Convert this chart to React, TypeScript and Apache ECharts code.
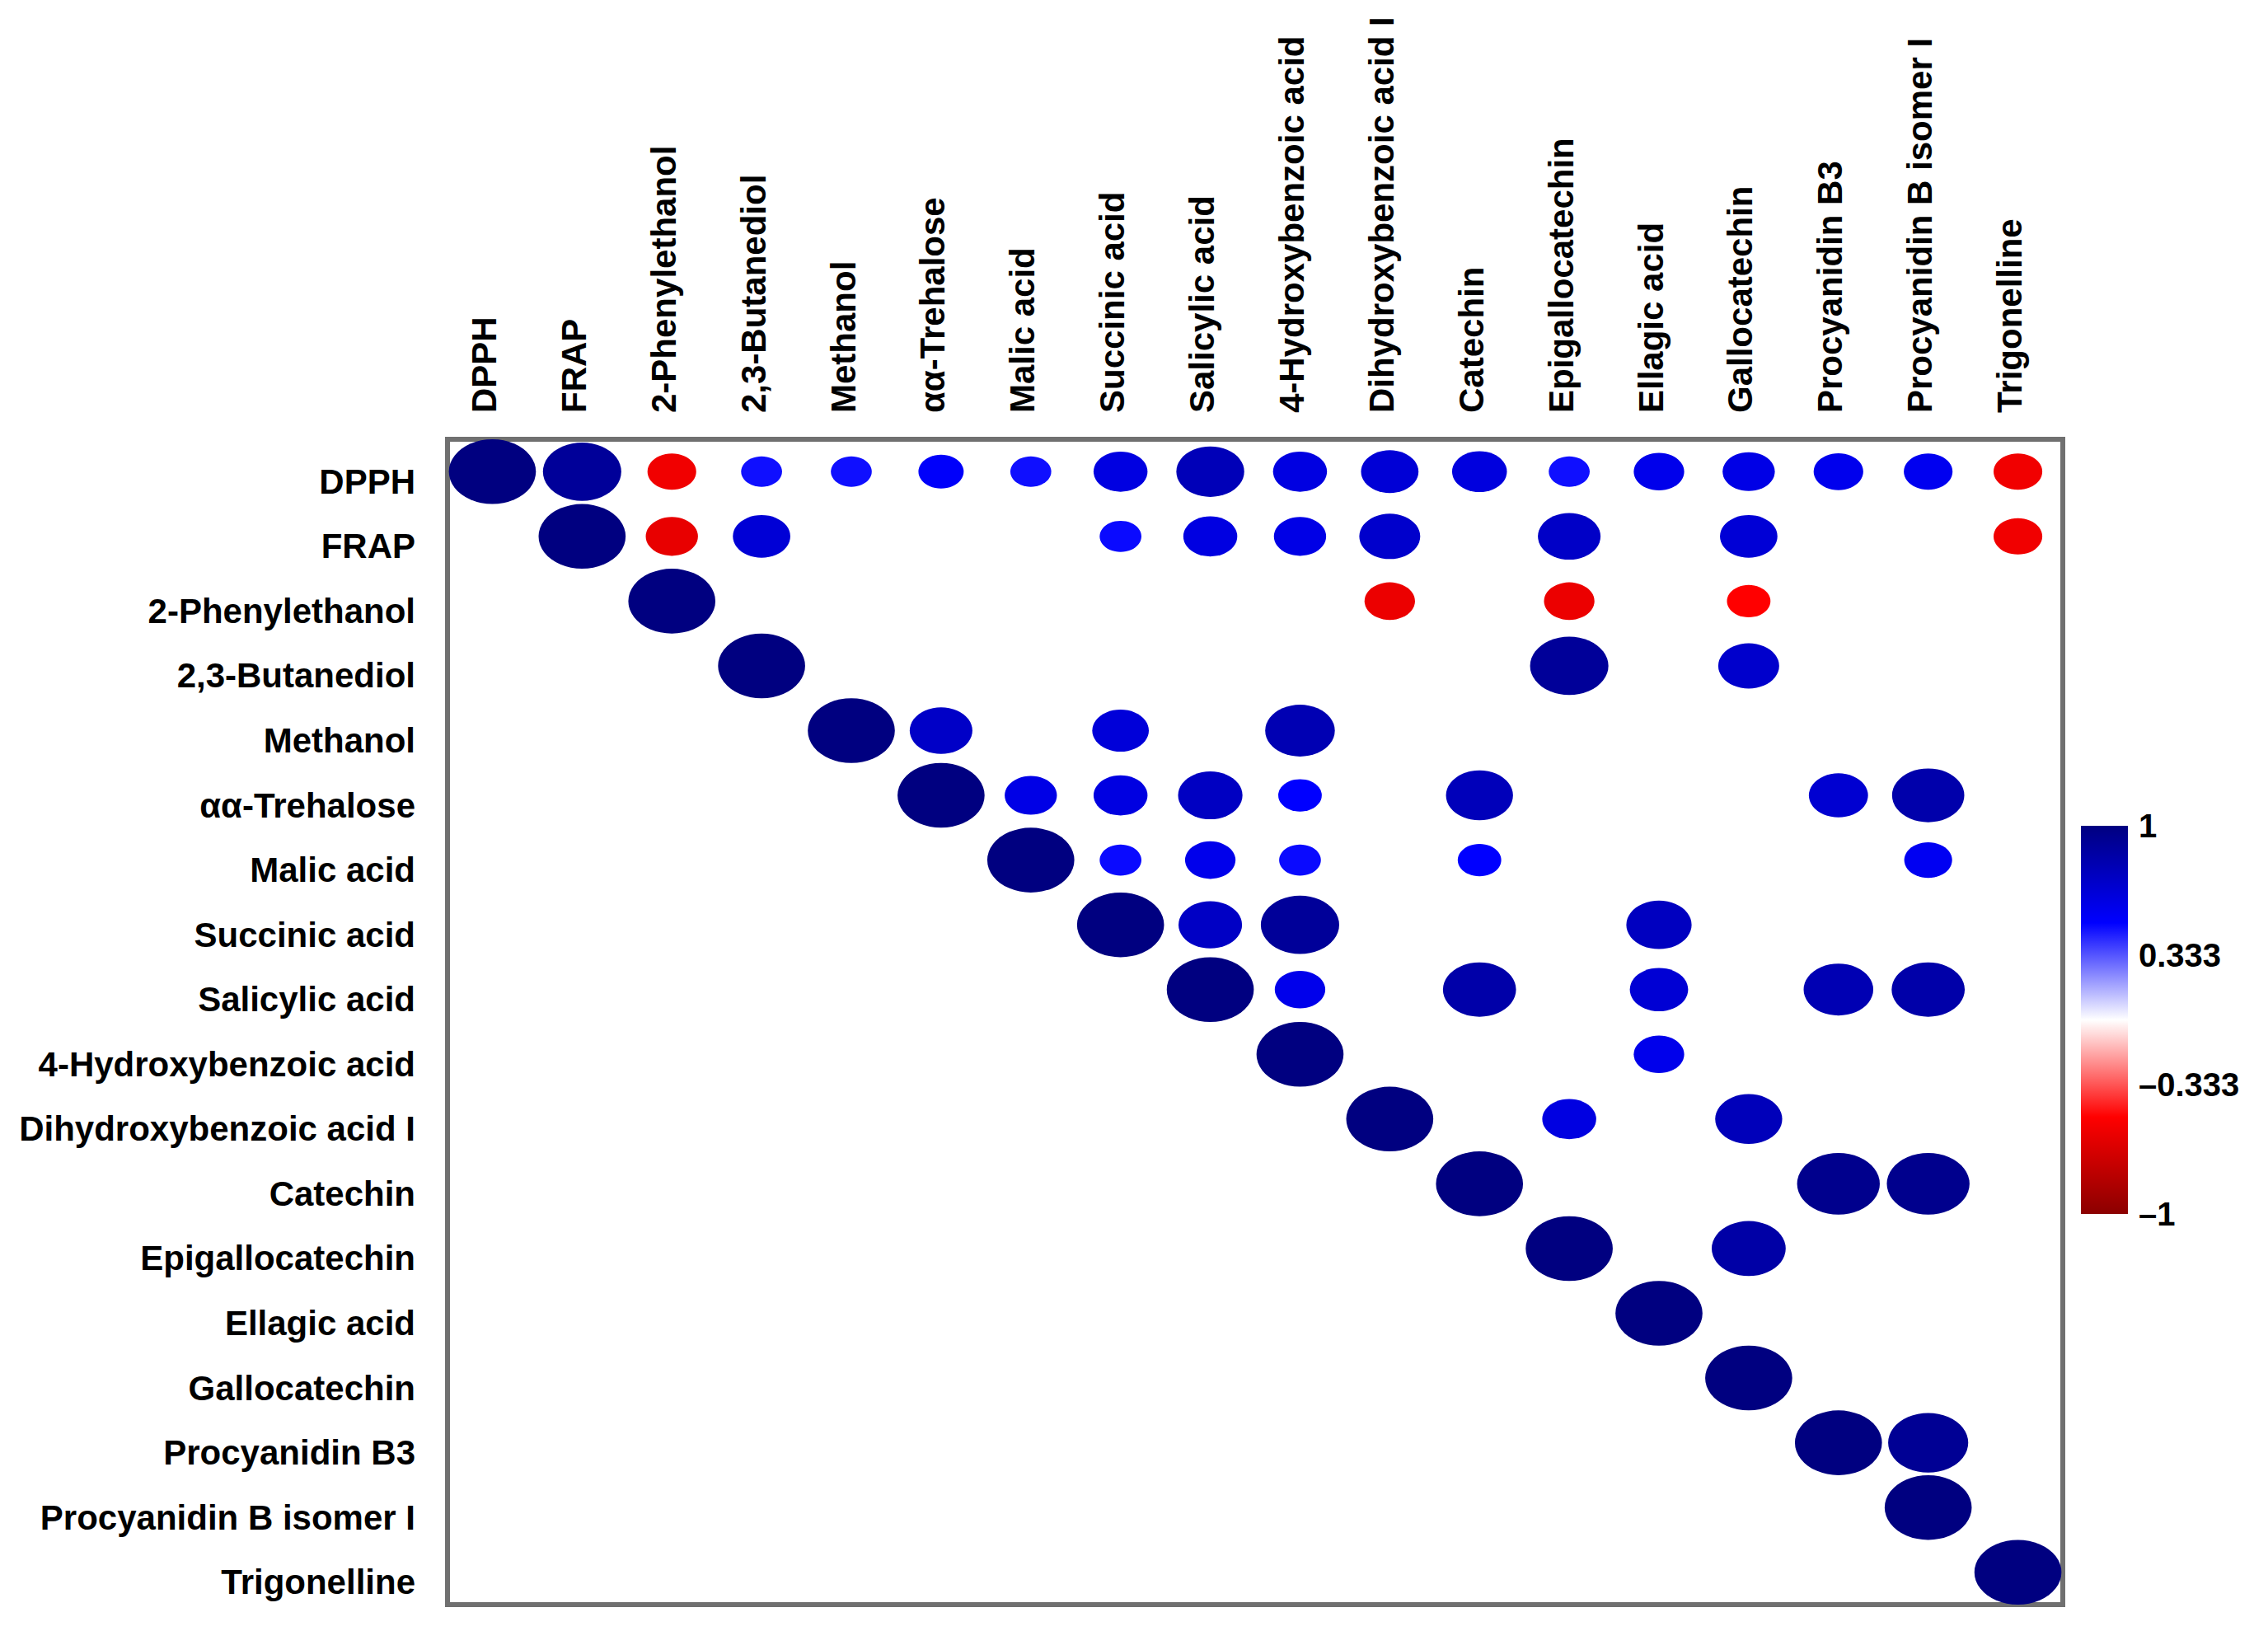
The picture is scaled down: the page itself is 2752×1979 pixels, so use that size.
import React, { useEffect, useRef } from "react";
import * as echarts from "echarts";

// Variables (same order on both axes)
const categories = [
  "DPPH", "FRAP", "2-Phenylethanol", "2,3-Butanediol", "Methanol", "αα-Trehalose",
  "Malic acid", "Succinic acid", "Salicylic acid", "4-Hydroxybenzoic acid",
  "Dihydroxybenzoic acid I", "Catechin", "Epigallocatechin", "Ellagic acid",
  "Gallocatechin", "Procyanidin B3", "Procyanidin B isomer I", "Trigonelline",
];

// Correlation rows (upper triangle; null = not shown)
const _ = null;
const rowDPPH = [1.0, 0.9, -0.56, 0.47, 0.47, 0.52, 0.47, 0.62, 0.78, 0.62, 0.66, 0.63, 0.47, 0.58, 0.6, 0.57, 0.56, -0.56];
const rowFRAP = [_, 1.0, -0.6, 0.66, _, _, _, 0.48, 0.62, 0.6, 0.7, _, 0.72, _, 0.66, _, _, -0.56];
const rowPhenylethanol = [_, _, 1.0, _, _, _, _, _, _, _, -0.58, _, -0.58, _, -0.5, _, _, _];
const rowButanediol = [_, _, _, 1.0, _, _, _, _, _, _, _, _, 0.9, _, 0.7, _, _, _];
const rowMethanol = [_, _, _, _, 1.0, 0.72, _, 0.65, _, 0.8, _, _, _, _, _, _, _, _];
const rowTrehalose = [_, _, _, _, _, 1.0, 0.6, 0.62, 0.74, 0.5, _, 0.77, _, _, _, 0.68, 0.83, _];
const rowMalic = [_, _, _, _, _, _, 1.0, 0.48, 0.58, 0.48, _, 0.5, _, _, _, _, 0.55, _];
const rowSuccinic = [_, _, _, _, _, _, _, 1.0, 0.73, 0.9, _, _, _, 0.75, _, _, _, _];
const rowSalicylic = [_, _, _, _, _, _, _, _, 1.0, 0.58, _, 0.84, _, 0.67, _, 0.8, 0.84, _];
const rowHBA = [_, _, _, _, _, _, _, _, _, 1.0, _, _, _, 0.58, _, _, _, _];
const rowDHBA = [_, _, _, _, _, _, _, _, _, _, 1.0, _, 0.62, _, 0.77, _, _, _];
const rowCatechin = [_, _, _, _, _, _, _, _, _, _, _, 1.0, _, _, _, 0.95, 0.95, _];
const rowEGC = [_, _, _, _, _, _, _, _, _, _, _, _, 1.0, _, 0.85, _, _, _];
const rowEllagic = [_, _, _, _, _, _, _, _, _, _, _, _, _, 1.0, _, _, _, _];
const rowGC = [_, _, _, _, _, _, _, _, _, _, _, _, _, _, 1.0, _, _, _];
const rowPB3 = [_, _, _, _, _, _, _, _, _, _, _, _, _, _, _, 1.0, 0.92, _];
const rowPBiso = [_, _, _, _, _, _, _, _, _, _, _, _, _, _, _, _, 1.0, _];
const rowTrigonelline = [_, _, _, _, _, _, _, _, _, _, _, _, _, _, _, _, _, 1.0];

const matrixRows = [
  rowDPPH, rowFRAP, rowPhenylethanol, rowButanediol, rowMethanol, rowTrehalose,
  rowMalic, rowSuccinic, rowSalicylic, rowHBA, rowDHBA, rowCatechin, rowEGC,
  rowEllagic, rowGC, rowPB3, rowPBiso, rowTrigonelline,
];

// Colour scale and legend ticks
const paletteLowToHigh = ["#8b0000", "#ff0000", "#ffffff", "#0000ff", "#000080"];
const legendTicks = [1, 0.333, -0.333, -1];
const legendTickLabels = ["1", "0.333", "\u20130.333", "\u20131"];

export default function App() {
  const ref = useRef<HTMLDivElement>(null);

  useEffect(() => {
    if (!ref.current) return;
    const chart = echarts.init(ref.current, undefined, { renderer: "svg" });

    const gridLeft = 543;
    const gridTop = 533;
    const gridW = 1960;
    const gridH = 1414;
    const n = categories.length;
    const cellW = (gridW / n) * 0.97;
    const cellH = gridH / n;

    const data: any[] = [];
    matrixRows.forEach((row, ri) => {
      row.forEach((v, ci) => {
        if (v !== null && v !== undefined) data.push([ci, ri, v]);
      });
    });

    const font = "'Liberation Sans', Arial, sans-serif";
    const labelStyle = { color: "#000", fontFamily: font, fontWeight: "bold", fontSize: 42 };

    const barX = 2525;
    const barY = 1002;
    const barW = 57;
    const barH = 471;

    const gradStops = paletteLowToHigh
      .slice()
      .reverse()
      .map((c, i, arr) => ({ offset: i / (arr.length - 1), color: c }));

    const legendTexts = legendTicks.map((t, i) => ({
      type: "text",
      x: 2595,
      y: barY + ((1 - t) / 2) * barH,
      style: {
        text: legendTickLabels[i],
        fill: "#000",
        font: `bold 40px ${font}`,
        verticalAlign: "middle",
        align: "left",
      },
    }));

    chart.setOption({
      animation: false,
      backgroundColor: "#ffffff",
      grid: {
        left: gridLeft,
        top: gridTop,
        width: gridW,
        height: gridH,
        show: true,
        borderColor: "#707070",
        borderWidth: 6,
        backgroundColor: "transparent",
      },
      xAxis: {
        type: "category",
        data: categories,
        position: "top",
        axisLine: { show: false },
        axisTick: { show: false },
        splitLine: { show: false },
        axisLabel: {
          rotate: -90,
          interval: 0,
          margin: 32,
          ...labelStyle,
          formatter: (v: string) => `{c|${v}}`,
          rich: { c: { ...labelStyle, padding: [0, 0, 20, 0] } },
        },
      },
      yAxis: {
        type: "category",
        data: categories,
        inverse: true,
        axisLine: { show: false },
        axisTick: { show: false },
        splitLine: { show: false },
        axisLabel: {
          interval: 0,
          margin: 39,
          ...labelStyle,
          formatter: (v: string) => `{r|${v}}`,
          rich: { r: { ...labelStyle, padding: [24, 0, 0, 0] } },
        },
      },
      visualMap: {
        show: false,
        type: "continuous",
        dimension: 2,
        min: -1,
        max: 1,
        inRange: { color: paletteLowToHigh },
      },
      series: [
        {
          type: "scatter",
          symbol: "circle",
          data,
          symbolSize: (val: number[]) => [cellW * Math.abs(val[2]), cellH * Math.abs(val[2])],
          itemStyle: { opacity: 1 },
          clip: false,
        },
      ],
      graphic: [
        {
          type: "rect",
          shape: { x: barX, y: barY, width: barW, height: barH },
          style: { fill: new echarts.graphic.LinearGradient(0, 0, 0, 1, gradStops) },
        },
        ...legendTexts,
      ],
    });

    return () => chart.dispose();
  }, []);

  return (
    <div
      ref={ref}
      style={{ position: "fixed", left: 0, top: 0, width: 2752, height: 1979, background: "#fff" }}
    />
  );
}
